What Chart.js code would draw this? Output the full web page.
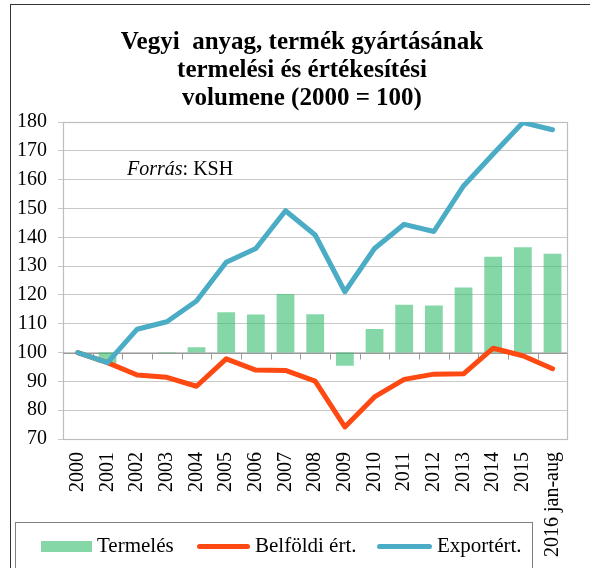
<!DOCTYPE html>
<html><head><meta charset="utf-8">
<script src="https://cdn.jsdelivr.net/npm/chart.js@4/dist/chart.umd.min.js"></script>
<style>
html,body{margin:0;padding:0;width:590px;height:568px;overflow:hidden;background:#fff;}
#wrap{position:relative;width:590px;height:568px;font-family:"Liberation Serif","Times New Roman",serif;color:#000;}
canvas{position:absolute;left:0;top:0;}
.ft{position:absolute;left:11px;top:4px;width:579px;height:0;border-top:1.5px solid #333;}
.fl{position:absolute;left:10px;top:4px;width:0;height:570px;border-left:1.5px solid #333;}
#title{position:absolute;left:0;top:27px;width:604px;text-align:center;font-weight:bold;font-size:25px;line-height:28px;white-space:pre;}
#src{position:absolute;left:127px;top:158px;font-size:20px;line-height:20px;white-space:pre;}
#leg{position:absolute;left:15px;top:522px;width:516px;height:70px;border:1px solid #7f7f7f;}
.lt{position:absolute;top:535px;font-size:21px;line-height:21px;white-space:pre;}
.sw{position:absolute;}
</style></head>
<body><div id="wrap">
<canvas id="c" width="590" height="568"></canvas>
<div class="ft"></div><div class="fl"></div>
<div id="title">Vegyi  anyag, termék gyártásának
termelési és értékesítési
volumene (2000 = 100)</div>
<div id="src"><i>Forrás</i>: KSH</div>
<div id="leg"></div>
<div class="sw" style="left:41px;top:541px;width:51px;height:11px;background:#86d7a8;"></div>
<div class="lt" style="left:97px;">Termelés</div>
<div class="sw" style="left:197px;top:544px;width:53px;height:5px;border-radius:3px;background:#fe4a12;"></div>
<div class="lt" style="left:255px;">Belföldi ért.</div>
<div class="sw" style="left:377px;top:544px;width:55px;height:5px;border-radius:3px;background:#4bacc6;"></div>
<div class="lt" style="left:437px;">Exportért.</div>
</div>
<script>
const categories = ['2000','2001','2002','2003','2004','2005','2006','2007','2008','2009','2010','2011','2012','2013','2014','2015','2016 jan-aug'];
const termeles  = [100, 96.4, 100, 99.8, 101.8, 114.0, 113.2, 120.3, 113.3, 95.4, 108.2, 116.6, 116.3, 122.6, 133.2, 136.5, 134.3];
const belfoldi  = [100, 96.5, 92.2, 91.4, 88.3, 97.8, 93.9, 93.8, 90.1, 74.2, 84.6, 90.7, 92.5, 92.6, 101.5, 98.9, 94.4];
const export_   = [100, 96.5, 108.1, 110.7, 117.9, 131.3, 136.1, 149.2, 140.8, 121.1, 136.1, 144.5, 142.0, 157.8, 168.9, 179.8, 177.3];
const baseValue = 100;
const yMin = 70, yMax = 180, yStep = 10;

const boxPlugin = {
  id: 'box',
  beforeDatasetsDraw(chart) {
    const {ctx, chartArea: a, scales: {x, y}} = chart;
    ctx.save();
    ctx.strokeStyle = '#bdbdbd';
    ctx.lineWidth = 1.2;
    ctx.strokeRect(Math.round(a.left) + 0.5, Math.round(a.top) + 0.5, Math.round(a.right - a.left), Math.round(a.bottom - a.top));
    const y0 = Math.round(y.getPixelForValue(baseValue)) + 0.5;
    ctx.strokeStyle = '#9a9a9a';
    ctx.lineWidth = 1;
    ctx.beginPath();
    ctx.moveTo(a.left, y0); ctx.lineTo(a.right, y0);
    for (let i = 1; i < x.ticks.length; i++) {
      const px = Math.round((x.getPixelForTick(i - 1) + x.getPixelForTick(i)) / 2) + 0.5;
      ctx.moveTo(px, y0); ctx.lineTo(px, y0 + 6);
    }
    ctx.stroke();
    ctx.restore();
  }
};

new Chart(document.getElementById('c'), {
  type: 'bar',
  data: {
    labels: categories,
    datasets: [
      {type: 'line', label: 'Exportért.', data: export_, borderColor: '#4bacc6', borderWidth: 5, pointRadius: 0, tension: 0, borderJoinStyle: 'round', borderCapStyle: 'round', order: 0},
      {type: 'line', label: 'Belföldi ért.', data: belfoldi, borderColor: '#fe4a12', borderWidth: 5, pointRadius: 0, tension: 0, borderJoinStyle: 'round', borderCapStyle: 'round', order: 1},
      {type: 'bar', label: 'Termelés', data: termeles.map(v => [baseValue, v]), backgroundColor: 'rgba(60,190,115,0.62)', borderWidth: 0, barPercentage: 0.6, categoryPercentage: 1, order: 2}
    ]
  },
  options: {
    responsive: false,
    animation: false,
    devicePixelRatio: 1,
    layout: {padding: {left: 0, right: 16, top: 122, bottom: 0}},
    plugins: {legend: {display: false}, title: {display: false}, tooltip: {enabled: false}},
    scales: {
      x: {
        grid: {display: false, drawTicks: false},
        border: {display: false},
        ticks: {minRotation: 90, maxRotation: 90, autoSkip: false, padding: 13, color: '#000', font: {family: 'Liberation Serif', size: 20}},
        afterFit(s) { s.height = 129; }
      },
      y: {
        min: yMin, max: yMax,
        grid: {color: '#c8c8c8', lineWidth: 1, tickLength: 5},
        border: {display: true, color: '#bdbdbd'},
        ticks: {stepSize: yStep, padding: 11, color: '#000', font: {family: 'Liberation Serif', size: 20}},
        afterFit(s) { s.width = 63; }
      }
    }
  },
  plugins: [boxPlugin]
});
</script>
</body></html>
